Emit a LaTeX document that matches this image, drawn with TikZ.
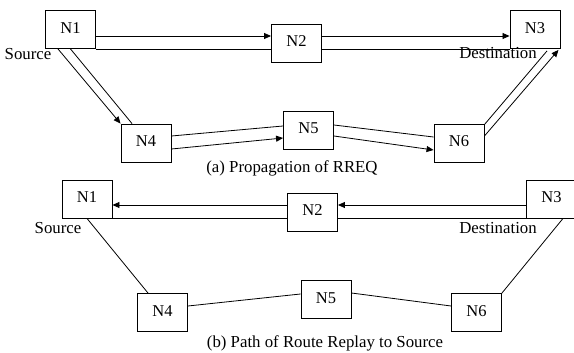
\documentclass[tikz,border=0pt]{standalone}
\usepackage{fontspec}
\setmainfont{Liberation Serif}
\usetikzlibrary{arrows.meta,calc}
\begin{document}
\begin{tikzpicture}[x=1pt,y=-1pt,
  box/.style={draw=black, line width=0.9pt, minimum width=50pt, minimum height=38pt, inner sep=0pt, font=\fontsize{16.5}{17}\selectfont},
  lbl/.style={font=\fontsize{16.8}{17}\selectfont, inner sep=0pt},
  ln/.style={draw=black, line width=0.8pt},
  arr/.style={ln, -{Triangle[length=7pt,width=6pt]}}]
\useasboundingbox (0,0) rectangle (574,353);
% (a)
\node[box] (N1a) at (70.5,29.5) {\raisebox{3pt}{N1}\hspace{10pt}};
\node[box] (N2a) at (296.5,43) {\raisebox{3pt}{N2}\hspace{10pt}};
\node[box] (N3a) at (535,29.5) {\raisebox{3pt}{N3}\hspace{8pt}};
\node[box] (N4a) at (146,143) {\raisebox{3pt}{N4}\hspace{8pt}};
\node[box] (N5a) at (308.5,130) {\raisebox{3pt}{N5}\hspace{6pt}};
\node[box] (N6a) at (459,143) {\raisebox{3pt}{N6}\hspace{8pt}};
\node[lbl] (srca) at (28,54) {Source};
\node[lbl] (dsta) at (498,53) {Destination};
\node[lbl] (capa) at (292,168) {(a) Propagation of RREQ};
\draw[arr] ([yshift=-6.5pt]N1a.east) -- ([yshift=-6.5pt]N1a.east -| N2a.west);
\draw[ln] (N1a.south east) -- (N1a.south east -| N2a.west);
\draw[arr] ([yshift=7pt]N2a.east) -- ([yshift=7pt]N2a.east -| N3a.west);
\draw[ln] (N3a.south west) -- (N3a.south west -| N2a.east);
\draw[arr] ([xshift=-12.5pt]N1a.south) -- (N4a.north west);
\draw[ln] (N1a.south) -- ([xshift=-14pt]N4a.north);
\draw[ln] ([yshift=7pt]N4a.east) -- ([yshift=4pt]N5a.west);
\draw[arr] ([yshift=-6pt]N4a.east) -- ([yshift=-8pt]N5a.west);
\draw[ln] ([yshift=5pt]N5a.east) -- ([yshift=6pt]N6a.west);
\draw[arr] ([yshift=-6pt]N5a.east) -- ([yshift=-7pt]N6a.west);
\draw[ln] ([yshift=-1pt]N6a.north east) -- ([xshift=12pt,yshift=-2pt]N3a.south);
\draw[arr] ([yshift=7pt]N6a.east) -- ([xshift=-2pt,yshift=-1pt]N3a.south east);
% (b)
\node[box] (N1b) at (87,199) {\raisebox{3pt}{N1}\hspace{10pt}};
\node[box] (N2b) at (312.5,212) {\raisebox{3pt}{N2}\hspace{8pt}};
\node[box] (N3b) at (551.5,199) {\raisebox{3pt}{N3}\hspace{8pt}};
\node[box] (N4b) at (162.5,312.5) {\raisebox{3pt}{N4}\hspace{8pt}};
\node[box] (N5b) at (326,299.5) {\raisebox{3pt}{N5}\hspace{8pt}};
\node[box] (N6b) at (476.5,312.5) {\raisebox{3pt}{N6}\hspace{8pt}};
\node[lbl] (srcb) at (58,228) {Source};
\node[lbl] (dstb) at (498,228) {Destination};
\node[lbl] (capb) at (325,343) {(b) Path of Route Replay to Source};
\draw[arr] ([yshift=7pt]N2b.west) -- ([yshift=7pt]N2b.west -| N1b.east);
\draw[ln] (N1b.south east) -- (N1b.south east -| N2b.west);
\draw[arr] ([yshift=-6pt]N3b.west) -- ([yshift=-6pt]N3b.west -| N2b.east);
\draw[ln] (N3b.south west) -- (N3b.south west -| N2b.east);
\draw[ln] (N1b.south) -- ([xshift=-14.5pt]N4b.north);
\draw[ln] ([yshift=6.5pt]N4b.east) -- ([yshift=5.5pt]N5b.west);
\draw[ln] ([yshift=6.5pt]N5b.east) -- ([yshift=6.5pt]N6b.west);
\draw[ln] (N6b.north east) -- ([xshift=11.5pt]N3b.south);
\end{tikzpicture}
\end{document}
